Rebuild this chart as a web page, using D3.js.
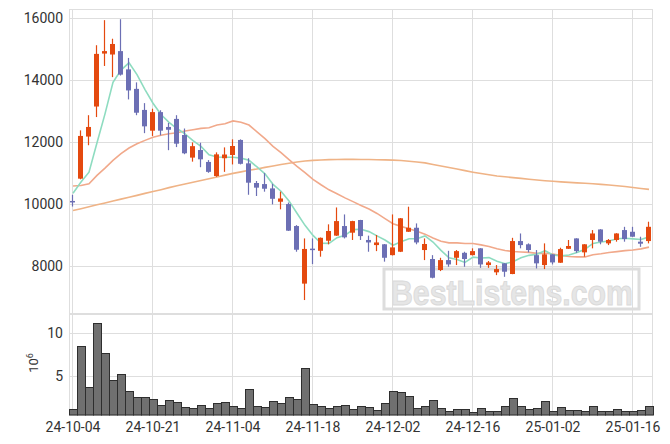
<!DOCTYPE html>
<html><head><meta charset="utf-8">
<script src="https://cdn.jsdelivr.net/npm/d3@7"></script>
<style>body{margin:0;background:#fff;} svg{display:block;font-family:Roboto,"Noto Sans",sans-serif;}</style>
</head><body><svg id="c" width="670" height="444"></svg>
<script>
const dates = ["24-10-04","24-10-07","24-10-08","24-10-10","24-10-11","24-10-14","24-10-15","24-10-16","24-10-17","24-10-18",
"24-10-21","24-10-22","24-10-23","24-10-24","24-10-25","24-10-28","24-10-29","24-10-30","24-10-31","24-11-01",
"24-11-04","24-11-05","24-11-06","24-11-07","24-11-08","24-11-11","24-11-12","24-11-13","24-11-14","24-11-15",
"24-11-18","24-11-19","24-11-20","24-11-21","24-11-22","24-11-25","24-11-26","24-11-27","24-11-28","24-11-29",
"24-12-02","24-12-03","24-12-04","24-12-05","24-12-06","24-12-09","24-12-10","24-12-11","24-12-12","24-12-13",
"24-12-16","24-12-17","24-12-18","24-12-19","24-12-20","24-12-23","24-12-24","24-12-26","24-12-27","24-12-30",
"25-01-02","25-01-03","25-01-06","25-01-07","25-01-08","25-01-09","25-01-10","25-01-13","25-01-14","25-01-15",
"25-01-16","25-01-17","25-01-20"];
const opens = [10100,10820,12180,13150,14860,14830,14940,14350,13720,13040,
12370,12970,12490,12750,12230,11500,11745,11360,10905,11480,
11585,12070,11315,10680,10645,10505,10075,10000,9290,7430,
8560,8490,8815,8980,9290,9075,9485,8840,8675,8700,
8350,8460,9105,9235,8515,8225,7870,8190,8265,8425,
8350,8570,8030,7795,8085,7740,8805,8700,8350,8030,
8375,8105,8555,8890,8440,8840,9180,8730,8840,9160,
9105,8785,8805];
const highs = [10300,12380,12870,15130,15940,15340,15970,14720,13930,13260,
13080,13030,12620,12870,12440,11990,11980,11420,11670,11830,
12090,12090,11480,10745,11000,10655,10400,10050,9320,8890,
8890,8920,9345,9890,9665,9460,9490,8980,9000,8710,
9665,9550,9915,9375,8890,8350,8265,8490,8515,8460,
8570,8575,8160,8030,8090,8910,9050,8730,8515,8730,
8380,8590,8840,8895,8705,9160,9190,8870,9060,9265,
9265,8945,9430];
const lows = [9920,10800,11900,12810,14460,14100,14150,13380,12870,12290,
12200,12220,11740,11840,11610,11370,11190,11010,10880,11040,
11280,11280,10300,10260,10400,9990,9830,9130,8460,6900,
8060,8300,8700,8970,8890,8840,8840,8460,8480,8140,
8340,8450,9100,8700,8190,7600,7835,7975,8030,7975,
8340,7940,7940,7705,7650,7735,8570,8440,7920,7900,
8050,8100,8550,8425,8300,8570,8700,8675,8785,8785,
8940,8620,8730];
const closes = [10080,12200,12490,14850,14940,15170,14180,13670,12950,12510,
12970,12370,12400,11950,11640,11870,11445,11040,11605,11600,
11875,11300,10690,10530,10495,10170,10180,9140,8525,8550,
8540,8910,9130,9450,8925,9450,8965,8760,8760,8265,
8600,9540,9235,8760,8710,7620,8190,8050,8480,8225,
8480,8050,8115,7900,7815,8805,8675,8515,8085,8375,
8115,8545,8645,8480,8700,9050,8785,8840,9050,8870,
8945,8720,9265];
const volumes = [1.09,8.48,3.63,11.13,7.62,4.49,5.16,3.2,2.46,2.46,
2.23,1.56,2.15,1.87,1.36,1.17,1.52,1.17,1.76,1.87,
1.4,1.17,3.4,1.4,1.29,1.99,1.76,2.46,2.23,5.86,
1.64,1.4,1.17,1.44,1.56,1.09,1.44,1.32,0.97,1.76,
3.2,3.08,2.61,1.21,1.44,2.15,1.17,0.86,1.09,1.09,
0.74,1.21,0.86,0.86,1.44,2.38,1.44,1.09,1.21,2.03,
0.86,1.32,0.97,0.97,0.86,1.44,0.86,0.86,1.09,0.86,
0.86,0.97,1.44];
const ma5 = [10350,10710,11030,11980,12912,13930,14326,14562,14182,13696,
13256,12894,12640,12440,12266,12046,11861,11589,11520,11512,
11513,11484,11414,11199,10978,10637,10413,10103,9702,9313,
8987,8733,8731,8916,8991,9173,9184,9110,8972,8840,
8670,8785,8880,8880,8969,8773,8503,8266,8210,8113,
8285,8258,8271,8155,8073,8138,8263,8343,8380,8492,
8354,8328,8354,8433,8540,8727,8775,8807,8881,8895,
8874,8855,8940];
const ma20 = [10582,10600,10656,10927,11163,11411,11626,11809,11948,12057,
12155,12220,12272,12304,12359,12402,12445,12467,12551,12596,
12686,12641,12551,12335,12113,11863,11663,11437,11215,11017,
10796,10623,10459,10334,10199,10078,9954,9840,9697,9531,
9367,9279,9206,9118,9028,8901,8801,8747,8745,8728,
8725,8682,8632,8554,8499,8466,8452,8440,8406,8411,
8387,8337,8308,8294,8293,8365,8395,8434,8463,8495,
8518,8552,8609];
const maLong = [9790,9850,9910,9975,10035,10100,10160,10220,10280,10345,
10405,10465,10530,10590,10650,10705,10760,10820,10875,10935,
10990,11040,11090,11135,11185,11230,11280,11320,11360,11390,
11410,11425,11435,11440,11442,11443,11440,11437,11433,11428,
11420,11405,11385,11360,11330,11280,11230,11180,11130,11080,
11030,10985,10945,10905,10880,10855,10830,10800,10775,10755,
10735,10715,10700,10685,10670,10655,10635,10615,10590,10565,
10535,10505,10475];
const priceTicks = [8000,10000,12000,14000,16000];
const volTicks = [5,10];
const dateTicks = ["24-10-04","24-10-21","24-11-04","24-11-18","24-12-02","24-12-16","25-01-02","25-01-16"];

const svg = d3.select('#c');
const L = 69, R = 653, T = 9, MID = 314, B = 415;
const x = d3.scaleBand().domain(dates).range([L, R]).padding(0);
const y = d3.scaleLinear().domain([6449, 16300]).range([MID, T]);
const yv = d3.scaleLinear().domain([0.387, 12.23]).range([B, MID]);
const cx = d => x(d) + x.bandwidth() / 2;
const grid = '#dedede';

svg.append('rect').attr('width', 670).attr('height', 444).attr('fill', '#fff');

// grid
const g = svg.append('g');
g.selectAll('.hg').data(priceTicks).join('line')
  .attr('x1', L).attr('x2', R).attr('y1', d => Math.round(y(d)) + 0.5).attr('y2', d => Math.round(y(d)) + 0.5)
  .attr('stroke', grid);
g.selectAll('.hv').data(volTicks).join('line')
  .attr('x1', L).attr('x2', R).attr('y1', d => Math.round(yv(d)) + 0.5).attr('y2', d => Math.round(yv(d)) + 0.5)
  .attr('stroke', grid);
g.selectAll('.vg').data(dateTicks).join('line')
  .attr('x1', d => Math.round(cx(d)) - 0.5).attr('x2', d => Math.round(cx(d)) - 0.5)
  .attr('y1', T).attr('y2', B).attr('stroke', grid);
// frames
g.append('rect').attr('x', L + 0.5).attr('y', T + 0.5).attr('width', R - L - 1).attr('height', MID - T - 1)
  .attr('fill', 'none').attr('stroke', grid);
g.append('rect').attr('x', L + 0.5).attr('y', MID + 0.5).attr('width', R - L - 1).attr('height', B - MID)
  .attr('fill', 'none').attr('stroke', grid);

// watermark
const wm = svg.append('g');
wm.append('rect').attr('x', 384).attr('y', 269).attr('width', 255).attr('height', 40)
  .attr('fill', 'none').attr('stroke', '#dddddd').attr('stroke-width', 3);
wm.append('text').attr('transform', 'translate(391,305) scale(0.84,1)').text('BestListens.com')
  .attr('font-family', '"Liberation Sans",Arial,sans-serif').attr('font-weight', 'bold')
  .attr('font-size', 36)
  .attr('fill', '#e6e6e6').attr('stroke', '#dadada').attr('stroke-width', 1);

// volume bars
svg.append('g').selectAll('rect').data(volumes).join('rect')
  .attr('x', (d, i) => x(dates[i]) + 0.5)
  .attr('y', d => Math.round(yv(d)) + 0.5)
  .attr('width', x.bandwidth())
  .attr('height', d => B - Math.round(yv(d)) - 0.5)
  .attr('fill', '#707070').attr('stroke', '#2e2e2e').attr('stroke-width', 1);

// MA lines
const line = arr => d3.line().x((d, i) => cx(dates[i])).y(d => y(d))(arr);
svg.append('path').attr('d', line(maLong)).attr('fill', 'none').attr('stroke', '#efb386').attr('stroke-width', 1.6);
svg.append('path').attr('d', line(ma20)).attr('fill', 'none').attr('stroke', '#f1a98b').attr('stroke-width', 1.6);
svg.append('path').attr('d', line(ma5)).attr('fill', 'none').attr('stroke', '#8edcc0').attr('stroke-width', 1.6);

// candles
const up = '#e4490f', down = '#6c6fb4';
const cg = svg.append('g');
dates.forEach((d, i) => {
  const col = closes[i] >= opens[i] ? up : down;
  const c = Math.round(cx(d));
  cg.append('line').attr('x1', c - 0.5).attr('x2', c - 0.5)
    .attr('y1', y(highs[i])).attr('y2', y(lows[i])).attr('stroke', col).attr('stroke-width', 1.2);
  const top = y(Math.max(opens[i], closes[i])), bot = y(Math.min(opens[i], closes[i]));
  cg.append('rect').attr('x', c - 3).attr('width', 5)
    .attr('y', top).attr('height', Math.max(1.5, bot - top))
    .attr('fill', col);
});

// axes
const txt = '#333';
const ya = svg.append('g').attr('transform', `translate(${L},0)`)
  .call(d3.axisLeft(y).tickValues(priceTicks).tickSize(0).tickPadding(6).tickFormat(d3.format('d')));
const yva = svg.append('g').attr('transform', `translate(${L},0)`)
  .call(d3.axisLeft(yv).tickValues(volTicks).tickSize(0).tickPadding(6).tickFormat(d3.format('d')));
const xa = svg.append('g').attr('transform', `translate(0,${B})`)
  .call(d3.axisBottom(x).tickValues(dateTicks).tickSize(0).tickPadding(7));
[ya, yva, xa].forEach(a => {
  a.select('.domain').remove();
  a.selectAll('text').attr('font-size', 14).attr('fill', txt).attr('font-family', 'Roboto,"Noto Sans",sans-serif');
});

// 10^6 label
const lab = svg.append('text').attr('transform', 'translate(38,363) rotate(-90)')
  .attr('text-anchor', 'middle').attr('font-size', 13).attr('fill', txt);
lab.append('tspan').text('10');
lab.append('tspan').attr('dy', -5).attr('font-size', 9).text('6');
</script></body></html>
